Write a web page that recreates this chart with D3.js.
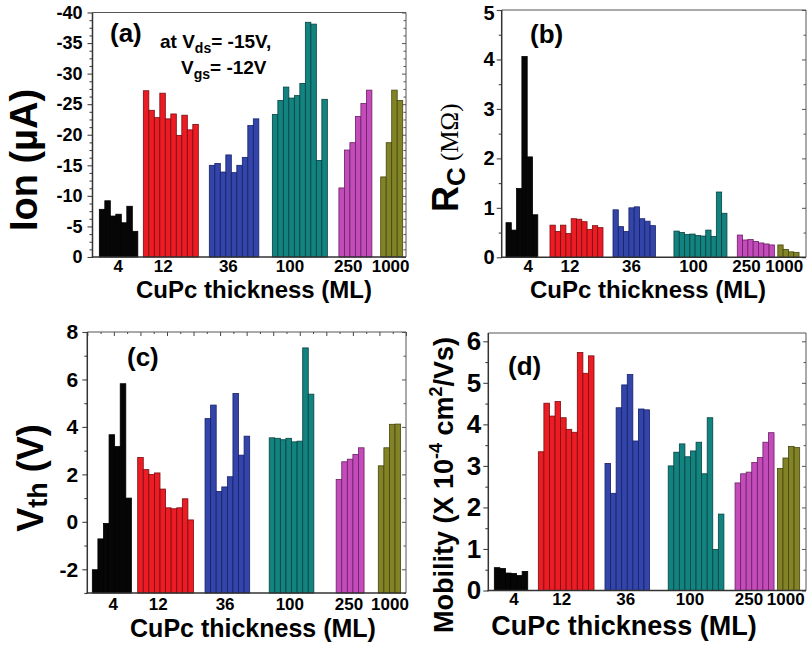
<!DOCTYPE html>
<html>
<head>
<meta charset="utf-8">
<script src="https://cdn.jsdelivr.net/npm/d3@7"></script>
<style>
  html, body { margin: 0; padding: 0; background: #ffffff; }
  svg { display: block; }
  text { font-family: "Liberation Sans", Arial, sans-serif; font-weight: bold; fill: #000; }
</style>
</head>
<body>
<svg id="fig" width="809" height="650"></svg>
<script>
// CuPc film thickness groups (monolayers)
const thickness = ["4", "12", "36", "100", "250", "1000"];
const groupFill = ["#060606", "#ec1c24", "#3345a8", "#12837f", "#c34cba", "#828226"];
const groupEdge = ["#000000", "#7a0c10", "#16206a", "#064240", "#6a1f66", "#45450f"];

// (a) on-current at Vds = -15 V, Vgs = -12 V (µA)
const ion4    = [-7.8, -9.2, -6.7, -7.0, -5.6, -8.3, -4.2];
const ion12   = [-27.2, -24.0, -22.8, -26.8, -22.6, -23.4, -19.9, -23.2, -20.8, -21.7];
const ion36   = [-15.0, -15.3, -13.9, -16.7, -13.8, -15.0, -16.3, -21.5, -22.6];
const ion100  = [-23.3, -25.6, -27.8, -26.0, -26.4, -28.4, -38.4, -38.1, -15.8, -25.8];
const ion250  = [-11.3, -17.5, -18.7, -23.0, -25.1, -27.3];
const ion1000 = [-13.1, -18.7, -27.3, -25.6];

// (b) contact resistance (MΩ)
const rc4    = [0.70, 0.55, 1.39, 4.06, 2.03, 0.86];
const rc12   = [0.65, 0.52, 0.65, 0.48, 0.78, 0.77, 0.72, 0.56, 0.64, 0.60];
const rc36   = [0.96, 0.62, 0.52, 1.00, 1.02, 0.78, 0.73, 0.64];
const rc100  = [0.53, 0.50, 0.46, 0.47, 0.44, 0.43, 0.55, 0.42, 1.32, 0.89];
const rc250  = [0.45, 0.35, 0.36, 0.32, 0.29, 0.27, 0.25];
const rc1000 = [0.25, 0.16, 0.11, 0.10];

// (c) threshold voltage (V)
const vth4    = [-2.02, -0.72, -0.07, 3.67, 3.17, 5.82, 1.00];
const vth12   = [2.71, 2.20, 2.00, 2.06, 1.38, 0.59, 0.55, 0.59, 0.97, 0.08];
const vth36   = [4.35, 4.92, 1.28, 1.47, 1.90, 5.41, 2.81, 3.61];
const vth100  = [3.54, 3.52, 3.46, 3.52, 3.37, 3.40, 7.33, 5.38];
const vth250  = [1.78, 2.53, 2.64, 2.84, 3.12];
const vth1000 = [2.36, 3.12, 4.11, 4.12];

// (d) field-effect mobility (x 10^-4 cm^2/Vs)
const mu4    = [0.55, 0.53, 0.42, 0.41, 0.36, 0.46];
const mu12   = [3.34, 4.51, 4.20, 4.55, 4.16, 3.88, 3.81, 5.73, 5.23, 5.65];
const mu36   = [3.06, 2.34, 4.40, 4.95, 5.20, 3.60, 4.37, 4.35];
const mu100  = [3.00, 3.33, 3.53, 3.22, 3.36, 3.57, 2.81, 4.16, 0.99, 1.84];
const mu250  = [2.59, 2.81, 2.85, 3.08, 3.20, 3.57, 3.80];
const mu1000 = [2.94, 3.19, 3.47, 3.44];

// y-axis tick values
const ionTicks = [0, -5, -10, -15, -20, -25, -30, -35, -40];
const rcTicks  = [0, 1, 2, 3, 4, 5];
const vthTicks = [-2, 0, 2, 4, 6, 8];
const muTicks  = [0, 1, 2, 3, 4, 5, 6];

const svg = d3.select("#fig");

// Panel geometry: frame box, bar slot width and where each thickness group sits (in slots)
const panels = [
  { series: [ion4, ion12, ion36, ion100, ion250, ion1000],
    box: { left: 92.5, right: 406, top: 12.5, bottom: 257 },
    yDomain: [0, -40], majors: ionTicks, minorStep: -1.25, slot: 5.5,
    starts: [1.24, 9.24, 21.24, 32.7, 44.8, 52.4],
    labelAt: [4.69, 12.87, 24.7, 35.9, 46.5, 54.2],
    tickFont: 18, tickGap: 3, catY: 272, titleY: 298, titleX: 254, titleSize: 24 },
  { series: [rc4, rc12, rc36, rc100, rc250, rc1000],
    box: { left: 501.7, right: 806, top: 10, bottom: 257.3 },
    yDomain: [0, 5], majors: rcTicks, minorStep: 0.5, slot: 5.3,
    starts: [0.81, 9.11, 21.0, 32.5, 44.45, 52.1],
    labelAt: [5.02, 12.9, 24.5, 36.2, 46.2, 53.3],
    tickFont: 20, tickGap: 0, catY: 272, titleY: 298, titleX: 648, titleSize: 24 },
  { series: [vth4, vth12, vth36, vth100, vth250, vth1000],
    box: { left: 87.3, right: 406, top: 332, bottom: 593 },
    yDomain: [-3, 8], majors: vthTicks, minorStep: 1, slot: 5.58,
    starts: [0.9, 9.03, 21.1, 32.6, 44.6, 52.15],
    labelAt: [4.66, 12.72, 24.7, 36.3, 46.9, 54.25],
    tickFont: 21, tickGap: 2, catY: 610, titleY: 637, titleX: 253, titleSize: 25,
    topTicks: 24 },
  { series: [mu4, mu12, mu36, mu100, mu250, mu1000],
    box: { left: 488.3, right: 806, top: 333, bottom: 590.5 },
    yDomain: [0, 6.2], majors: muTicks, minorStep: 0.5, slot: 5.57,
    starts: [1.08, 8.98, 20.95, 32.3, 44.3, 51.9],
    labelAt: [4.6, 13.18, 24.67, 36.2, 46.8, 53.4],
    tickFont: 26, tickGap: 0, catY: 605, titleY: 635, titleX: 624, titleSize: 27 }
];

const fmt = v => String(v);

panels.forEach(p => {
  const b = p.box;
  const x = d3.scaleLinear().domain([0, (b.right - b.left) / p.slot]).range([b.left, b.right]);
  const y = d3.scaleLinear().domain(p.yDomain).range([b.bottom, b.top]);
  const g = svg.append("g");

  // bars, rising from the lower edge of the frame
  p.series.forEach((vals, gi) => {
    g.append("g").selectAll("rect").data(vals).join("rect")
      .attr("x", (d, i) => x(p.starts[gi] + i))
      .attr("width", x(1) - x(0))
      .attr("y", d => Math.min(y(d), b.bottom))
      .attr("height", d => Math.abs(b.bottom - y(d)))
      .attr("fill", groupFill[gi])
      .attr("stroke", groupEdge[gi])
      .attr("stroke-width", 0.8);
  });

  // minor tick values between the major ones
  const lo = d3.min(p.yDomain), hi = d3.max(p.yDomain);
  const step = Math.abs(p.minorStep);
  const minors = d3.range(Math.ceil(lo / step), Math.floor(hi / step) + 1).map(k => k * step)
    .filter(v => !p.majors.some(m => Math.abs(m - v) < 1e-9));

  // left axis: outward ticks with labels
  const left = g.append("g").attr("transform", `translate(${b.left},0)`);
  left.call(d3.axisLeft(y).tickValues(p.majors).tickFormat(fmt).tickSize(5).tickPadding(2 + p.tickGap));
  left.append("g").call(d3.axisLeft(y).tickValues(minors).tickFormat("").tickSize(3));
  left.selectAll(".domain").remove();
  left.selectAll("line").attr("stroke", "#444").attr("stroke-width", 1.1);
  left.selectAll("text")
    .style("font-family", '"Liberation Sans", Arial, sans-serif')
    .style("font-weight", "bold")
    .style("font-size", p.tickFont + "px")
    .attr("fill", "#000")
    // keep a label sitting on the very top edge inside the page
    .attr("dy", d => (y(d) - p.tickFont * 0.6 < 0 ? "0.45em" : "0.32em"));

  // right axis: inward ticks only
  const right = g.append("g").attr("transform", `translate(${b.right},0)`);
  right.call(d3.axisLeft(y).tickValues(p.majors).tickFormat("").tickSize(4));
  right.append("g").call(d3.axisLeft(y).tickValues(minors).tickFormat("").tickSize(2.5));
  right.selectAll(".domain").remove();
  right.selectAll("line").attr("stroke", "#555").attr("stroke-width", 1);

  // optional inward ticks along the top edge
  if (p.topTicks) {
    const xi = d3.scaleLinear().domain([0, p.topTicks]).range([b.left, b.right]);
    const top = g.append("g").attr("transform", `translate(0,${b.top})`);
    top.call(d3.axisBottom(xi).tickValues(d3.range(0, p.topTicks + 1).filter(k => k % 2 === 0)).tickFormat("").tickSize(4));
    top.append("g").call(d3.axisBottom(xi).tickValues(d3.range(1, p.topTicks, 2)).tickFormat("").tickSize(2));
    top.selectAll(".domain").remove();
    top.selectAll("line").attr("stroke", "#444").attr("stroke-width", 1);
  }

  // frame
  g.append("line").attr("x1", b.left).attr("x2", b.right).attr("y1", b.top).attr("y2", b.top)
    .attr("stroke", "#555").attr("stroke-width", 1);
  g.append("line").attr("x1", b.right).attr("x2", b.right).attr("y1", b.top).attr("y2", b.bottom)
    .attr("stroke", "#555").attr("stroke-width", 1);
  g.append("line").attr("x1", b.left).attr("x2", b.left).attr("y1", b.top).attr("y2", b.bottom + 0.7)
    .attr("stroke", "#333").attr("stroke-width", 1.5);
  g.append("line").attr("x1", b.left - 0.7).attr("x2", b.right).attr("y1", b.bottom).attr("y2", b.bottom)
    .attr("stroke", "#333").attr("stroke-width", 1.5);

  // thickness labels under each group
  g.append("g").selectAll("text").data(thickness).join("text")
    .attr("x", (d, i) => x(p.labelAt[i]))
    .attr("y", p.catY)
    .attr("text-anchor", "middle")
    .style("font-size", "17px")
    .text(d => d);

  // x-axis title
  g.append("text")
    .attr("x", p.titleX).attr("y", p.titleY)
    .attr("text-anchor", "middle")
    .style("font-size", p.titleSize + "px")
    .text("CuPc thickness (ML)");
});

// panel letters
const letters = [["(a)", 110, 42], ["(b)", 530, 43], ["(c)", 127, 366], ["(d)", 508, 375]];
svg.append("g").selectAll("text").data(letters).join("text")
  .attr("x", d => d[1]).attr("y", d => d[2])
  .style("font-size", "26px")
  .text(d => d[0]);

// bias conditions in (a)
const cond1 = svg.append("text").attr("x", 160).attr("y", 48).style("font-size", "19px");
cond1.append("tspan").text("at V");
cond1.append("tspan").attr("dy", 5).style("font-size", "14px").text("ds");
cond1.append("tspan").attr("dy", -5).text("= -15V,");
const cond2 = svg.append("text").attr("x", 181).attr("y", 74).style("font-size", "19px");
cond2.append("tspan").text("V");
cond2.append("tspan").attr("dy", 5).style("font-size", "14px").text("gs");
cond2.append("tspan").attr("dy", -5).text("= -12V");

// y-axis titles (rotated)
const yt1 = svg.append("text").attr("transform", "translate(37,160) rotate(-90)")
  .attr("text-anchor", "middle").style("font-size", "38px");
yt1.append("tspan").text("I");
yt1.append("tspan").text("on");
yt1.append("tspan").text(" (\u00B5A)");

const yt2 = svg.append("text").attr("transform", "translate(458,212) rotate(-90)")
  .attr("text-anchor", "start").style("font-size", "36px");
yt2.append("tspan").text("R");
yt2.append("tspan").attr("dy", 7).style("font-size", "26px").text("C");
yt2.append("tspan").attr("dy", -7)
  .style("font-family", '"Liberation Serif", "Times New Roman", serif')
  .style("font-weight", "normal").style("font-size", "25px").text(" (M\u03A9)");

const yt3 = svg.append("text").attr("transform", "translate(43,478) rotate(-90)")
  .attr("text-anchor", "middle").style("font-size", "36px");
yt3.append("tspan").text("V");
yt3.append("tspan").attr("dy", 4).style("font-size", "27px").text("th");
yt3.append("tspan").attr("dy", -4).text(" (V)");

const yt4 = svg.append("text").attr("transform", "translate(453,485) rotate(-90)")
  .attr("text-anchor", "middle").style("font-size", "27px");
yt4.append("tspan").text("Mobility (X 10");
yt4.append("tspan").attr("dy", -11).style("font-size", "18px").text("-4");
yt4.append("tspan").attr("dy", 11).text(" cm");
yt4.append("tspan").attr("dy", -11).style("font-size", "18px").text("2");
yt4.append("tspan").attr("dy", 11).text("/Vs)");
</script>
</body>
</html>
